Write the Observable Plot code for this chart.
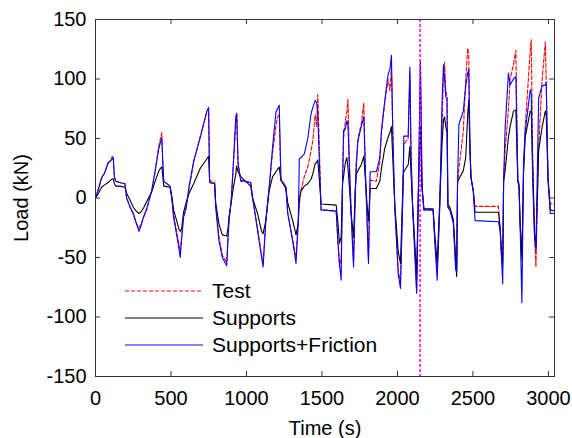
<!DOCTYPE html>
<html><head><meta charset="utf-8">
<script src="https://cdn.jsdelivr.net/npm/d3@7"></script>
<script src="https://cdn.jsdelivr.net/npm/@observablehq/plot@0.6"></script>
<style>
body{margin:0;background:#fff;}
#wrap{position:relative;width:572px;height:438px;font-family:"Liberation Sans",Arial,sans-serif;}
#legend{position:absolute;left:125px;top:277px;font-size:21px;color:#000;}
.row{display:flex;align-items:center;height:27.3px;white-space:nowrap;}
.row svg{width:78px;height:4px;margin-right:9px;display:block;}
</style></head><body><div id="wrap"><div id="legend"></div></div>
<script>
const time = [0,20,40,60,84,100,112,118,125,135,160,195,206,230,251,270,288,300,320,339,372,395,417,430,439,446,452,494,505,517,540,552,561,570,583,600,620,650,694,738,749,756,
789,796,818,840,869,878,884,900,913,929,935,944,962,1028,1040,1073,1100,1110,1128,1150,1173,1195,1205,1217,1228,1261,1273,1306,1328,1343,1350,1361,1383,1406,1428,1439,1455,1465,1472,1480,1494,
1594,1605,1616,1627,1636,1643,1655,1665,1672,1680,1693,1709,1720,1727,1738,1760,1777,1788,1800,1808,1819,1860,1883,1894,1916,1938,1950,1960,1970,1982,2005,2020,2038,2042,2071,2082,2090,2100,2127,2137,2152,2163,2175,2236,2247,2263,2280,2295,2305,2312,2320,2328,2334,2347,2370,2385,2392,
2398,2407,2436,2452,2465,2472,2480,2487,2502,2514,2669,2680,2691,2697,2703,2713,2735,2746,2768,2784,2797,2805,2812,2824,2835,2846,2879,2886,2895,2908,2917,2935,2957,2979,2985,2997,3012,3040];
const test = [0,7,16,21,29,32,35,32,18,14,13,12,0,-8,-14,-21,-25,-22,-16,-10,6,22,42,50,55,30,14,10,0,-14,-30,-38,-45,-33,-17,-9,8,30,52,73,75,15,
13,-5,-33,-48,-54,-35,-20,0,27,62,72,30,14,13,0,-25,-48,-55,-20,8,38,60,68,70,16,10,-12,-35,-50,-20,-5,6,18,26,40,48,70,60,87,55,-10,
-11,-35,-58,-50,10,50,65,72,83,40,-10,-55,0,30,50,62,80,20,-20,-52,15,14,30,55,80,100,90,110,50,-5,-60,-72,15,45,50,105,40,-5,-78,-10,115,9,-10,-10,-36,-62,-5,60,105,114,90,85,-7,-10,-20,-55,-60,
10,25,56,100,126,120,50,17,6,-7,-7,-27,-55,-60,14,40,75,100,112,124,15,10,-21,-52,28,60,123,133,40,-33,-58,42,98,131,100,17,-5,-5];
const supports = [0,4,9,11,13,15,16,16,12,10,10,9,4,-2,-8,-11,-13,-12,-8,-3,5,14,22,25,26,18,10,9,2,-10,-20,-26,-28,-26,-12,-4,4,12,25,33,35,13,
12,-4,-22,-31,-32,-25,-16,-3,9,20,27,22,18,10,0,-13,-28,-30,-19,6,18,22,24,26,15,8,-4,-19,-31,-21,0,6,10,12,16,20,29,30,32,20,-5,
-6,-20,-38,-33,12,18,30,34,25,12,-13,-33,5,20,23,28,35,15,-8,-19,8,8,14,25,42,51,55,60,30,-5,-45,-55,20,22,28,43,20,-5,-65,0,60,8,-9,-9,-30,-55,-3,45,66,68,60,55,-5,-8,-18,-50,-66,
14,16,23,34,70,82,40,17,6,-12,-12,-25,-50,-55,14,23,51,60,73,74,14,10,-20,-50,20,51,73,72,30,-30,-40,40,59,73,70,15,-10,-11];
const friction = [0,8,17,21,30,31,33,34,17,14,13,12,0,-8,-13,-21,-28,-24,-15,-9,6,23,40,47,50,28,14,10,0,-16,-33,-42,-50,-35,-16,-8,10,31,51,73,76,13,
12,-8,-36,-50,-57,-32,-19,0,29,68,71,29,15,13,1,-27,-50,-58,-19,9,43,72,75,78,15,9,-13,-36,-55,-19,33,34,37,50,71,76,82,80,70,40,-10,
-11,-36,-55,-69,12,57,58,65,62,30,-13,-58,5,26,48,60,68,20,-25,-55,22,22,34,57,82,104,108,120,48,-8,-64,-76,15,52,52,110,35,-8,-80,-5,115,9,-10,-10,-36,-69,-8,80,112,100,85,84,-8,-10,-21,-60,-62,
15,62,73,94,105,108,40,17,6,-19,-20,-27,-55,-72,15,59,105,95,100,102,15,12,-22,-88,28,56,91,88,17,-33,-44,84,94,95,97,17,-13,-13];
const xTicks = [0,500,1000,1500,2000,2500,3000];
const yTicks = [-150,-100,-50,0,50,100,150];
const markerTime = [2150];
const seriesNames = ["Test","Supports","Supports+Friction"];
const seriesColors = ["#ff0000","#000000","#0000ff"];
const seriesDash = ["4,2","none","none"];

const chart = Plot.plot({
  width: 572, height: 438,
  marginLeft: 95, marginRight: 18, marginTop: 19, marginBottom: 62,
  style: {fontFamily: "Liberation Sans, Arial, sans-serif", fontSize: "20px", color: "#000", background: "#fff"},
  x: {domain: [0, 3040]},
  y: {domain: [-150, 150]},
  marks: [
    Plot.line(time, {x: d => d, y: test, stroke: seriesColors[0], strokeWidth: 1.1, strokeDasharray: seriesDash[0]}),
    Plot.line(time, {x: d => d, y: supports, stroke: seriesColors[1], strokeWidth: 1.1}),
    Plot.line(time, {x: d => d, y: friction, stroke: seriesColors[2], strokeWidth: 1.1}),
    Plot.ruleX(markerTime, {x: d => d, stroke: "#ff00ff", strokeWidth: 1.5, strokeDasharray: "3,2"}),
    Plot.frame({stroke: "#333", strokeWidth: 1}),
    Plot.ruleX(xTicks, {x: d => d, insetTop: 352, stroke: "#333"}),
    Plot.ruleX(xTicks, {x: d => d, insetBottom: 352, stroke: "#333"}),
    Plot.ruleY(yTicks, {y: d => d, insetRight: 454, stroke: "#333"}),
    Plot.ruleY(yTicks, {y: d => d, insetLeft: 454, stroke: "#333"}),
    Plot.axisX({ticks: xTicks, tickFormat: d => String(d), tickSize: 0, tickPadding: 14, label: "Time (s)", labelAnchor: "center", labelArrow: "none", labelOffset: 58}),
    Plot.axisY({ticks: yTicks, tickFormat: d => String(d), tickSize: 0, tickPadding: 9, label: "Load (kN)", labelAnchor: "center", labelArrow: "none", labelOffset: 82})
  ]
});
const wrap = document.getElementById("wrap");
wrap.insertBefore(chart, wrap.firstChild);
const legend = document.getElementById("legend");
seriesNames.forEach((name, i) => {
  const row = document.createElement("div");
  row.className = "row";
  row.innerHTML = `<svg viewBox="0 0 78 4"><line x1="0" y1="2" x2="78" y2="2" stroke="${seriesColors[i]}" stroke-width="1" ${seriesDash[i] !== "none" ? `stroke-dasharray="${seriesDash[i]}"` : ""}/></svg><span>${name}</span>`;
  legend.appendChild(row);
});
</script></body></html>
